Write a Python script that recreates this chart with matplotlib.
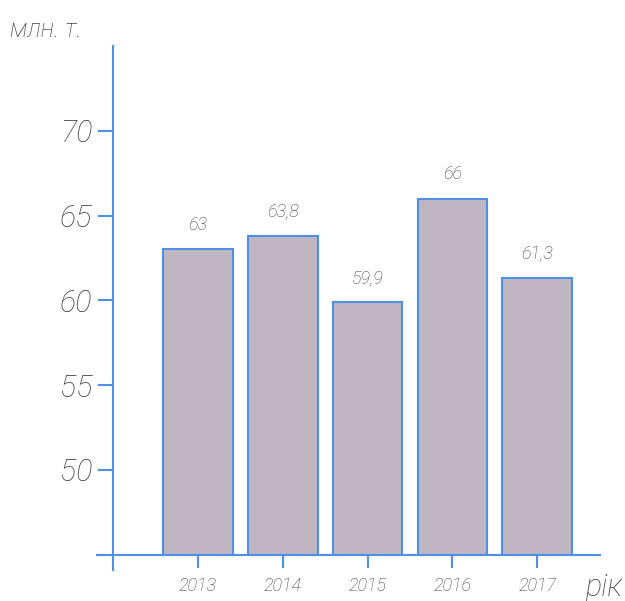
import matplotlib
matplotlib.use('Agg')
import matplotlib.pyplot as plt

years = ['2013', '2014', '2015', '2016', '2017']
values = [63, 63.8, 59.9, 66, 61.3]
value_labels = ['63', '63,8', '59,9', '66', '61,3']
y_ticks = [50, 55, 60, 65, 70]
base = 45

blue = '#4f8fe6'
grey = '#3c3c3c'
font = dict(family=['Roboto', 'DejaVu Sans'], style='italic', weight='light', color=grey)

fig = plt.figure(figsize=(6.25, 6.01), dpi=100)
ax = fig.add_axes([0.1552, 0.0516, 0.8048, 0.8719])

x = list(range(len(years)))
ax.bar(x, [v - base for v in values], width=0.82, bottom=base, color='#bfb6c2',
       edgecolor=blue, linewidth=1.5, zorder=2)

for xi, v, lab in zip(x, values, value_labels):
    ax.text(xi, v + 0.9, lab, ha='center', va='bottom', fontsize=13, **font)

ax.set_xlim(-1.19, 4.74)
ax.set_ylim(44.1, 75)

for s in ['top', 'right']:
    ax.spines[s].set_visible(False)
ax.spines['left'].set_position(('data', -1))
ax.spines['bottom'].set_position(('data', base))
for s in ['left', 'bottom']:
    ax.spines[s].set_color(blue)
    ax.spines[s].set_linewidth(1.5)
    ax.spines[s].set_zorder(3)

ax.set_yticks(y_ticks)
ax.set_yticklabels([str(t) for t in y_ticks], fontsize=22, **font)
ax.set_xticks(x)
ax.set_xticklabels(years, fontsize=13, **font)
ax.tick_params(axis='y', direction='out', length=11, width=1.5, color=blue, pad=4)
ax.tick_params(axis='x', direction='out', length=9, width=1.5, color=blue, pad=7)

fig.text(0.016, 0.95, 'млн. т.', fontsize=18, ha='left', va='center', **font)
fig.text(0.995, 0.022, 'рік', fontsize=22, ha='right', va='center', **font)

fig.savefig('out.png', dpi=100)
